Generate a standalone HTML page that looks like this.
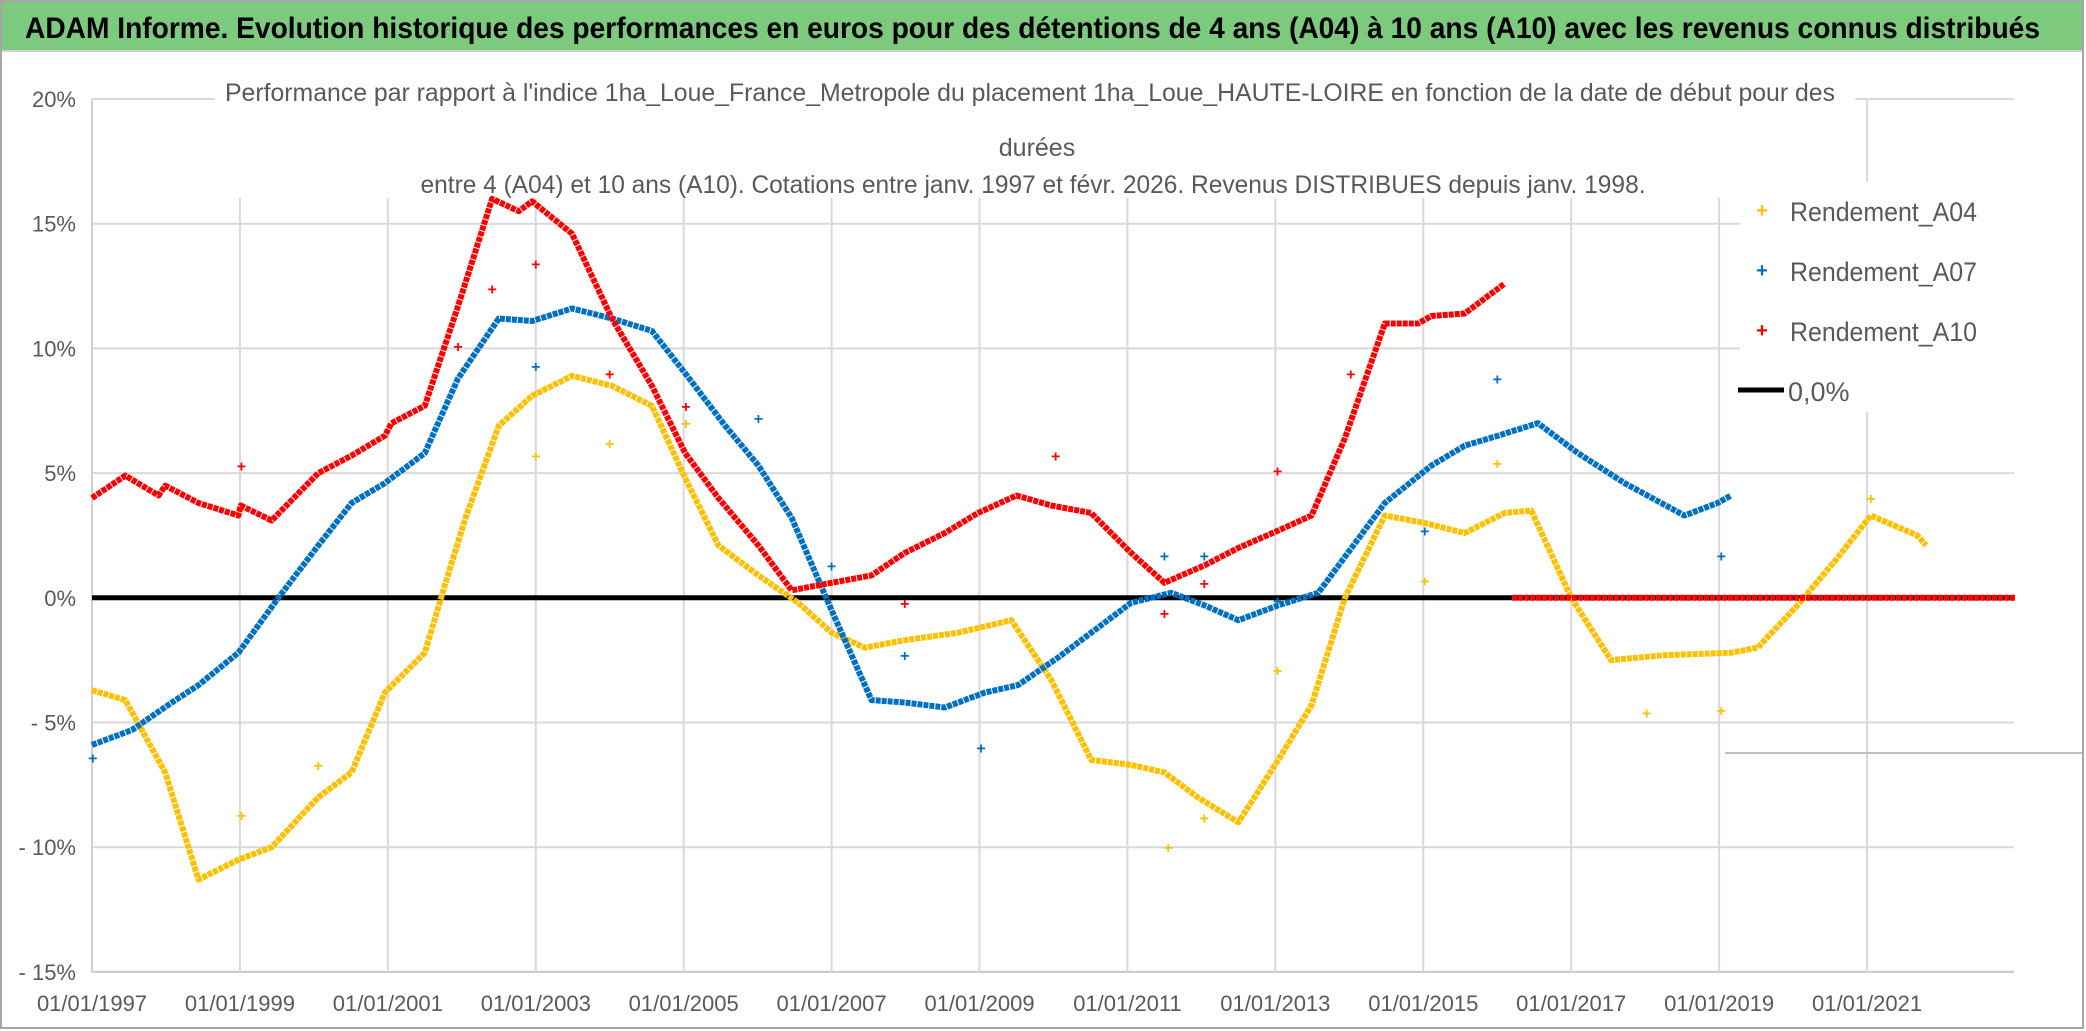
<!DOCTYPE html>
<html><head><meta charset="utf-8"><style>
html,body{margin:0;padding:0;background:#fff;}
svg{display:block;font-family:"Liberation Sans Narrow","Liberation Sans",sans-serif;}
</style></head><body>
<svg id="chart" width="2086" height="1031" viewBox="0 0 2086 1031">
<rect x="0" y="0" width="2086" height="1031" fill="#fff"/>
<rect x="1" y="1" width="2082" height="1027" fill="none" stroke="#a6a6a6" stroke-width="2"/>
<rect x="2" y="2" width="2080" height="48" fill="#7dc97e"/>
<line x1="2" y1="51" x2="2082" y2="51" stroke="#d0d0d0" stroke-width="2"/>
<text x="25" y="38" font-size="30" font-weight="bold" fill="#000" textLength="2015" lengthAdjust="spacingAndGlyphs">ADAM Informe. Evolution historique des performances en euros pour des détentions de 4 ans (A04) à 10 ans (A10) avec les revenus connus distribués</text>
<g id="grid"></g>
<g id="axes"></g>
<rect x="215" y="78" width="1640" height="120" fill="#fff"/>
<text x="1030" y="101" font-size="25" fill="#595959" text-anchor="middle" textLength="1610" lengthAdjust="spacingAndGlyphs">Performance par rapport à l'indice 1ha_Loue_France_Metropole  du placement 1ha_Loue_HAUTE-LOIRE en fonction de la date de début pour des</text>
<text x="1037" y="156" font-size="25" fill="#595959" text-anchor="middle">durées</text>
<text x="1033" y="193" font-size="25" fill="#595959" text-anchor="middle" textLength="1225" lengthAdjust="spacingAndGlyphs">entre 4 (A04) et 10 ans (A10). Cotations entre janv. 1997 et févr. 2026. Revenus DISTRIBUES depuis janv. 1998.</text>
<g id="series"></g>
<g id="legend">
<rect x="1740" y="182" width="300" height="230" fill="#fff"/>
<g><text x="1762" y="217" font-size="20" fill="#ffc000" text-anchor="middle" font-weight="bold">+</text><text x="1790" y="221" font-size="27" fill="#595959" textLength="187" lengthAdjust="spacingAndGlyphs">Rendement_A04</text></g>
<g><text x="1762" y="277" font-size="20" fill="#0070c0" text-anchor="middle" font-weight="bold">+</text><text x="1790" y="281" font-size="27" fill="#595959" textLength="187" lengthAdjust="spacingAndGlyphs">Rendement_A07</text></g>
<g><text x="1762" y="337" font-size="20" fill="#ff0000" text-anchor="middle" font-weight="bold">+</text><text x="1790" y="341" font-size="27" fill="#595959" textLength="187" lengthAdjust="spacingAndGlyphs">Rendement_A10</text></g>
<g><line x1="1738" y1="390" x2="1784" y2="390" stroke="#000" stroke-width="5"/><text x="1788" y="401" font-size="27" fill="#595959">0,0%</text></g>
</g>
</svg>
<script>
const yTicks = [20, 15, 10, 5, 0, -5, -10, -15];
const yTickLabels = ["20%", "15%", "10%", "5%", "0%", "- 5%", "- 10%", "- 15%"];
const xTicks = [1997, 1999, 2001, 2003, 2005, 2007, 2009, 2011, 2013, 2015, 2017, 2019, 2021];
const xTickLabels = ["01/01/1997","01/01/1999","01/01/2001","01/01/2003","01/01/2005","01/01/2007","01/01/2009","01/01/2011","01/01/2013","01/01/2015","01/01/2017","01/01/2019","01/01/2021"];

const a04Dates = [1997,1997.45,1997.99,1998.44,1998.98,1999.43,2000.06,2000.51,2000.96,2001.5,2001.77,2002.05,2002.5,2002.95,2003.49,2004.03,2004.57,2005.02,2005.47,2006.01,2006.55,2007,2007.45,2007.99,2008.71,2009.43,2009.97,2010.51,2011.05,2011.5,2011.95,2012.5,2013.04,2013.49,2013.94,2014.48,2015.02,2015.56,2016.1,2016.46,2017,2017.54,2018.26,2019.16,2019.52,2020.06,2020.6,2021.05,2021.68,2021.8,2022.3,2023];
const a04Values = [-3.7,-4.1,-7,-11.3,-10.5,-10,-8,-7,-3.8,-2.2,0.5,3.2,6.9,8.1,8.9,8.5,7.7,4.8,2.1,0.9,-0.2,-1.4,-2,-1.7,-1.4,-0.9,-3.3,-6.5,-6.7,-7,-8,-9,-6.5,-4.3,0,3.3,3,2.6,3.4,3.5,0,-2.5,-2.3,-2.2,-2,-0.3,1.6,3.3,2.5,2.1,null,0];
const a07Dates = [1997,1997.54,1998.08,1998.44,1998.98,1999.52,2000.06,2000.51,2000.96,2001.5,2001.95,2002.5,2002.95,2003.49,2004.03,2004.57,2005.02,2005.56,2006.01,2006.46,2007,2007.54,2007.99,2008.53,2009.07,2009.52,2010.06,2011.05,2011.59,2012.04,2012.5,2013.04,2013.58,2014.48,2015.11,2015.56,2016.01,2016.55,2017.09,2017.72,2018.53,2018.98,2019.16];
const a07Values = [-5.9,-5.3,-4.2,-3.5,-2.2,0,2.1,3.8,4.6,5.8,8.8,11.2,11.1,11.6,11.2,10.7,9,6.9,5.3,3.2,-0.5,-4.1,-4.2,-4.4,-3.8,-3.5,-2.4,-0.2,0.2,-0.3,-0.9,-0.3,0.2,3.8,5.3,6.1,6.5,7,5.8,4.6,3.3,3.8,4.1];
const a10Dates = [1997,1997.45,1997.9,1997.99,1998.44,1998.98,1999.01,1999.43,2000.06,2000.51,2000.96,2001.05,2001.5,2001.95,2002.41,2002.77,2002.95,2003.49,2004.03,2004.57,2005.02,2005.47,2006.01,2006.46,2007,2007.54,2007.99,2008.53,2008.98,2009.5,2009.97,2010.51,2011.05,2011.5,2012.04,2012.5,2013.04,2013.49,2013.94,2014.48,2014.93,2015.11,2015.56,2016.1,2016.15,2016.2,2023];
const a10Values = [4,4.9,4.1,4.5,3.8,3.3,3.7,3.1,5,5.7,6.5,7,7.7,11.7,16,15.5,15.9,14.6,11.2,8.5,5.8,4,2.1,0.3,0.6,0.9,1.8,2.6,3.4,4.1,3.7,3.4,1.8,0.6,1.3,2,2.7,3.3,6.4,11,11,11.3,11.4,12.6,null,0,0];
const a04OutDates = [1999.02,2000.06,2003.0,2004.0,2005.03,2015.02,2016.0,2018.02,2019.03,2021.05,2011.55,2012.04,2013.03];
const a04OutValues = [-8.7,-6.7,5.7,6.2,7.0,0.7,5.4,-4.6,-4.5,4.0,-10,-8.8,-2.9];
const a07OutDates = [1997.01,2003.0,2006.01,2007.0,2007.99,2009.02,2012.04,2015.02,2016.0,2019.03,2011.5,2013.03];
const a07OutValues = [-6.4,9.3,7.2,1.3,-2.3,-6,1.7,2.7,8.8,1.7,1.7,-0.1];
const a10OutDates = [1999.02,2001.95,2002.41,2003.0,2004.0,2005.03,2007.99,2010.03,2011.5,2012.04,2013.03,2014.02];
const a10OutValues = [5.3,10.1,12.4,13.4,9.0,7.7,-0.2,5.7,-0.6,0.6,5.1,9.0];

const NS = "http://www.w3.org/2000/svg";
const X0 = 92, XPERYR = 73.96, Y0 = 99, YPERPCT = 24.94, XEND = 2014;
function xs(d){ return X0 + (d - 1997) * XPERYR; }
function ys(v){ return Y0 + (20 - v) * YPERPCT; }
function mk(tag, attrs, parent){ const e = document.createElementNS(NS, tag); for (const k in attrs) e.setAttribute(k, attrs[k]); parent.appendChild(e); return e; }

const grid = document.getElementById('grid');
const axes = document.getElementById('axes');
yTicks.forEach((t, i) => {
  const l = mk('line', {x1: X0, x2: XEND, y1: ys(t), y2: ys(t), stroke: t === -15 ? '#c8c8c8' : '#d9d9d9', 'stroke-width': 2}, grid);
  
  
  const tx = mk('text', {x: 76, y: ys(t) + 8, 'font-size': 22, fill: '#595959', 'text-anchor': 'end'}, axes);
  tx.textContent = yTickLabels[i];
  
  
});
xTicks.forEach((t, i) => {
  if (i > 0) {
    const l = mk('line', {x1: xs(t), x2: xs(t), y1: ys(20), y2: ys(-15), stroke: '#d9d9d9', 'stroke-width': 2}, grid);
    
    
  }
  const tx = mk('text', {x: xs(t), y: 1011, 'font-size': 22, fill: '#595959', 'text-anchor': 'middle'}, axes);
  tx.textContent = xTickLabels[i];
  
  
});
const ya = mk('line', {x1: X0, x2: X0, y1: ys(20), y2: ys(-15), stroke: '#d0d0d0', 'stroke-width': 2}, axes);


const stray = mk('line', {x1: 1725, x2: 2082, y1: 753, y2: 753, stroke: '#bfbfbf', 'stroke-width': 2}, axes);



const series = document.getElementById('series');
const zero = mk('line', {x1: X0, x2: XEND, y1: ys(0), y2: ys(0), stroke: '#000', 'stroke-width': 5}, series);



function drawSeries(dates, vals, color, name){
  let segs = [[]];
  dates.forEach((d, i) => {
    if (vals[i] === null) { segs.push([]); return; }
    segs[segs.length - 1].push(xs(d).toFixed(1) + ',' + ys(vals[i]).toFixed(1));
  });
  segs.forEach(s => {
    if (s.length < 2) return;
    const p = mk('polyline', {points: s.join(' '), fill: 'none', stroke: color, 'stroke-width': 6, 'stroke-linejoin': 'round', 'stroke-dasharray': '5 1'}, series);
    
    
  });
}
function drawOutliers(dates, vals, color, name){
  dates.forEach((d, i) => {
    const t = mk('text', {x: xs(d), y: ys(vals[i]) + 6, 'font-size': 16, 'font-weight': 'bold', fill: color, 'text-anchor': 'middle'}, series);
    t.textContent = '+';
    
    
  });
}
drawSeries(a04Dates, a04Values, '#ffc000', 'series-a04');
drawSeries(a07Dates, a07Values, '#0070c0', 'series-a07');
drawSeries(a10Dates, a10Values, '#ff0000', 'series-a10');
drawOutliers(a04OutDates, a04OutValues, '#ffc000', 'point-a04');
drawOutliers(a07OutDates, a07OutValues, '#0070c0', 'point-a07');
drawOutliers(a10OutDates, a10OutValues, '#ff0000', 'point-a10');
</script>
</body></html>
